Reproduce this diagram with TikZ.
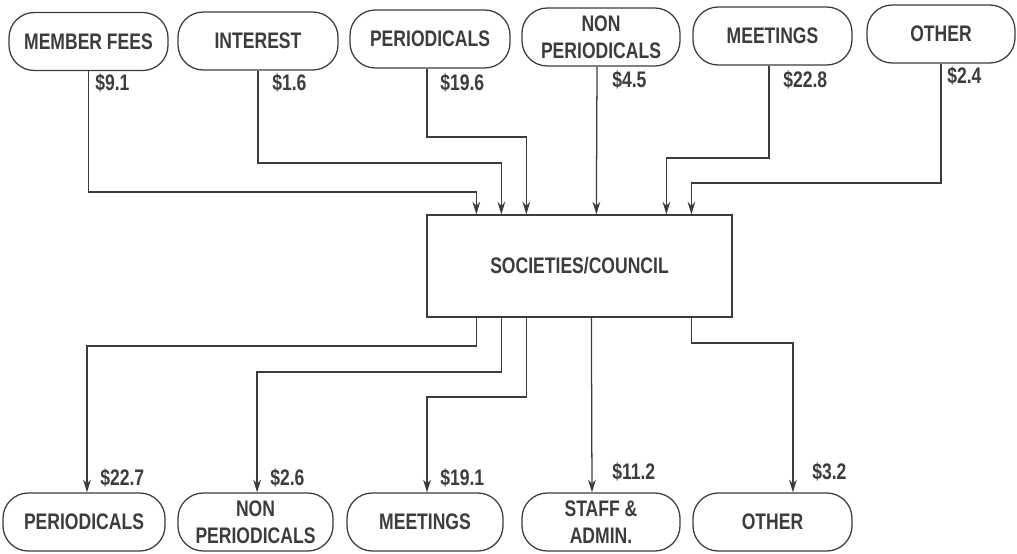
\documentclass[tikz,border=0pt]{standalone}
\usepackage{fontspec}
\setmainfont{Liberation Sans}[FakeStretch=0.78]
\usetikzlibrary{arrows.meta}
\definecolor{ink}{HTML}{3C3C3C}
\begin{document}
\begin{tikzpicture}[x=0.025cm,y=-0.025cm,>={Stealth[length=9pt,width=5.5pt]},
    txt/.style={text=ink,font=\fontsize{16pt}{19pt}\selectfont\bfseries},
    pill/.style={txt,draw=ink,line width=0.9pt,rounded corners=18pt,minimum height=1.45cm,align=center,inner sep=0pt},
    amt/.style={txt,anchor=west,inner sep=0pt},
    flow/.style={->,draw=ink,line width=0.9pt}]
    \useasboundingbox(0,0)rectangle(1017,553);
    \node[pill,minimum width=3.975cm](1)at(88.5,41.5){MEMBER FEES};
    \node[pill,minimum width=4cm](2)at(258,41){INTEREST};
    \node[pill,minimum width=4cm](3)at(430,39){PERIODICALS};
    \node[pill,minimum width=3.95cm](4)at(601,37){NON\\PERIODICALS};
    \node[pill,minimum width=3.975cm](5)at(772.5,36){MEETINGS};
    \node[pill,minimum width=3.7cm](6)at(941,34){OTHER};
    \node[txt,draw=ink,line width=0.9pt,minimum width=7.625cm,minimum height=2.55cm](7)at(579.5,266){SOCIETIES/COUNCIL};
    \node[pill,minimum width=4.05cm](8)at(84,522){PERIODICALS};
    \node[pill,minimum width=3.875cm](9)at(255.5,522){NON\\PERIODICALS};
    \node[pill,minimum width=3.9cm](10)at(425,522){MEETINGS};
    \node[pill,minimum width=3.95cm](11)at(601,522){STAFF \&\\ADMIN.};
    \node[pill,minimum width=3.975cm](12)at(772.5,522){OTHER};
    \node[amt](13)at(95,83){\$9.1};
    \node[amt](14)at(272,83){\$1.6};
    \node[amt](15)at(440,83){\$19.6};
    \node[amt](16)at(612,80){\$4.5};
    \node[amt](17)at(783,80){\$22.8};
    \node[amt](18)at(947,76){\$2.4};
    \node[amt](19)at(100,478){\$22.7};
    \node[amt](20)at(270,478){\$2.6};
    \node[amt](21)at(440,478){\$19.1};
    \node[amt](22)at(612,472){\$11.2};
    \node[amt](23)at(812,472){\$3.2};
    \coordinate(i1)at([xshift=1.25cm]7.north west);
    \coordinate(i2)at([xshift=1.875cm]7.north west);
    \coordinate(i3)at([xshift=2.5cm]7.north west);
    \coordinate(i4)at([xshift=4.25cm]7.north west);
    \coordinate(i5)at([xshift=6cm]7.north west);
    \coordinate(i6)at([xshift=6.625cm]7.north west);
    \coordinate(s3)at([xshift=-0.075cm]3.south);
    \coordinate(s4)at([xshift=-0.1cm]4.south);
    \coordinate(s5)at([xshift=-0.0875cm]5.south);
    \draw[flow](1.south)--(1.south|-0,192)-|(i1);
    \draw[flow](2.south)--(2.south|-0,163)-|(i2);
    \draw[flow](s3)--(s3|-0,137)-|(i3);
    \draw[flow](s4)--(i4);
    \draw[flow](s5)--(s5|-0,158)-|(i5);
    \draw[flow](6.south)--(6.south|-0,183)-|(i6);
    \coordinate(o1)at([xshift=1.25cm]7.south west);
    \coordinate(o2)at([xshift=1.875cm]7.south west);
    \coordinate(o3)at([xshift=2.5cm]7.south west);
    \coordinate(o4)at([xshift=4.125cm]7.south west);
    \coordinate(o5)at([xshift=6.625cm]7.south west);
    \coordinate(t8)at([xshift=0.075cm]8.north);
    \coordinate(t9)at([xshift=0.04cm]9.north);
    \coordinate(t10)at([xshift=0.05cm]10.north);
    \coordinate(t11)at([xshift=-0.225cm]11.north);
    \coordinate(t12)at([xshift=0.51cm]12.north);
    \draw[flow](o1)--(o1|-0,346)-|(t8);
    \draw[flow](o2)--(o2|-0,372)-|(t9);
    \draw[flow](o3)--(o3|-0,397)-|(t10);
    \draw[flow](o4)--(t11);
    \draw[flow](o5)--(o5|-0,343)-|(t12);
\end{tikzpicture}
\end{document}
